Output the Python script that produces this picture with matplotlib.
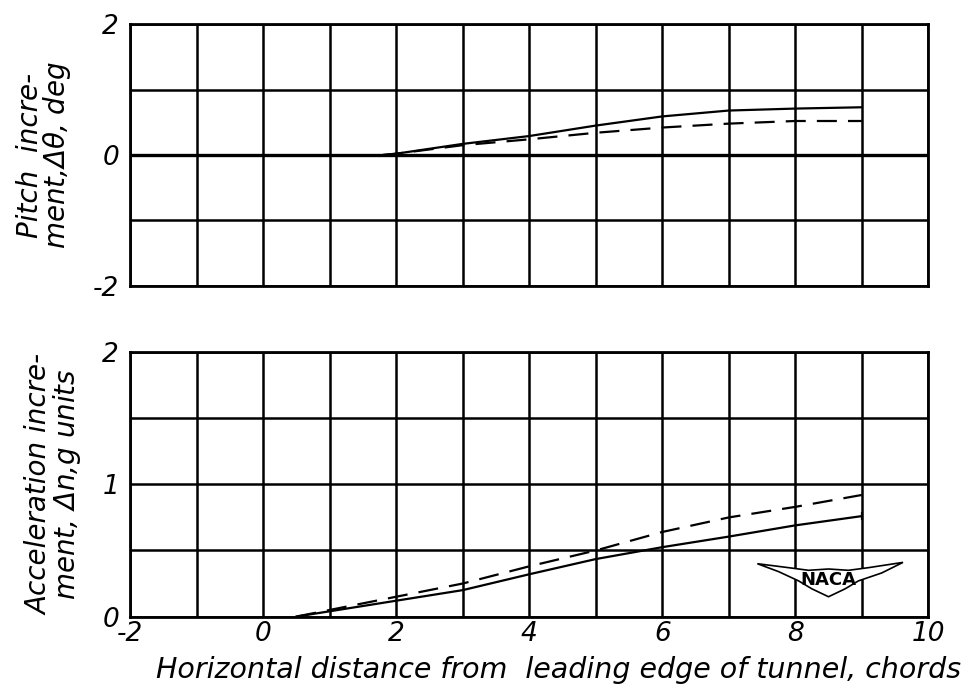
import numpy as np
import matplotlib.pyplot as plt
from matplotlib.patches import Polygon

# top panel: pitch increment, deg
pitch_x_solid = [1.8, 2.0, 3.0, 4.0, 5.0, 6.0, 7.0, 8.0, 9.0]
pitch_solid = [0.0, 0.02, 0.17, 0.29, 0.45, 0.59, 0.68, 0.71, 0.73]
pitch_x_dash = [1.8, 2.0, 3.0, 4.0, 5.0, 6.0, 7.0, 8.0, 9.0]
pitch_dash = [0.0, 0.02, 0.15, 0.24, 0.34, 0.42, 0.48, 0.52, 0.52]

# bottom panel: acceleration increment, g units
acc_x_solid = [0.5, 1.0, 2.0, 3.0, 4.0, 5.0, 6.0, 7.0, 8.0, 9.0]
acc_solid = [0.0, 0.04, 0.12, 0.20, 0.32, 0.435, 0.525, 0.605, 0.69, 0.76]
acc_x_dash = [0.5, 1.0, 2.0, 3.0, 4.0, 5.0, 6.0, 7.0, 8.0, 9.0]
acc_dash = [0.0, 0.05, 0.15, 0.25, 0.38, 0.50, 0.64, 0.75, 0.83, 0.92]

xticks = [-2, 0, 2, 4, 6, 8, 10]

plt.rcParams['font.family'] = 'DejaVu Sans'
plt.rcParams['font.style'] = 'oblique'
plt.rcParams['axes.unicode_minus'] = False

fig = plt.figure(figsize=(9.71, 6.92), dpi=100)
ax1 = fig.add_axes([0.134, 0.587, 0.822, 0.378])
ax2 = fig.add_axes([0.134, 0.109, 0.822, 0.382])

for ax in (ax1, ax2):
    ax.set_xlim(-2, 10)
    ax.set_xticks(xticks)
    ax.set_xticks(np.arange(-2, 11, 1), minor=True)
    ax.grid(True, which='both', color='black', linewidth=1.8)
    ax.tick_params(which='both', length=0, labelsize=19, pad=8)
    for s in ax.spines.values():
        s.set_linewidth(2)
    ax.set_axisbelow(True)

ax2.tick_params(axis='x', pad=3)

ax1.set_ylim(-2, 2)
ax1.set_yticks([-2, 0, 2])
ax1.set_yticks(np.arange(-2, 3, 1), minor=True)
ax1.set_xticklabels([])
ax1.axhline(0, color='black', lw=2.4)
ax1.plot(pitch_x_solid, pitch_solid, color='black', lw=1.6)
ax1.plot(pitch_x_dash, pitch_dash, color='black', lw=1.6, dashes=(9, 5))
ax1.set_ylabel('Pitch  incre-\nment,$\\Delta\\theta$, deg', fontsize=20,
               linespacing=0.9, labelpad=14)

ax2.set_ylim(0, 2)
ax2.set_yticks([0, 1, 2])
ax2.set_yticks(np.arange(0, 2.01, 0.5), minor=True)
ax2.plot(acc_x_solid, acc_solid, color='black', lw=1.6)
ax2.plot(acc_x_dash, acc_dash, color='black', lw=1.6, dashes=(9, 5))
ax2.plot([9, 9], [acc_solid[-1] - 0.02, acc_solid[-1] + 0.02], color='black', lw=1.6)
ax2.set_ylabel('Acceleration incre-\nment, $\\Delta$n,g units', fontsize=20,
               linespacing=0.9, labelpad=14)
ax2.set_xlabel('Horizontal distance from  leading edge of tunnel, chords',
               fontsize=20.5, labelpad=0)
ax2.xaxis.set_label_coords(0.537, -0.15)

# NACA wing emblem
wing = [(7.43, 0.40), (7.9, 0.37), (8.2, 0.35), (8.5, 0.36), (8.8, 0.35),
        (9.1, 0.37), (9.62, 0.41), (9.3, 0.33), (8.95, 0.27), (8.75, 0.21),
        (8.5, 0.15), (8.25, 0.21), (8.05, 0.27), (7.75, 0.34)]
ax2.add_patch(Polygon(wing, closed=True, facecolor='white', edgecolor='black',
                      lw=1.2, zorder=5))
ax2.text(8.5, 0.28, 'NACA', fontsize=13, fontweight='bold', fontstyle='normal',
         ha='center', va='center', zorder=6)

plt.savefig('out.png', dpi=100)
plt.close()
